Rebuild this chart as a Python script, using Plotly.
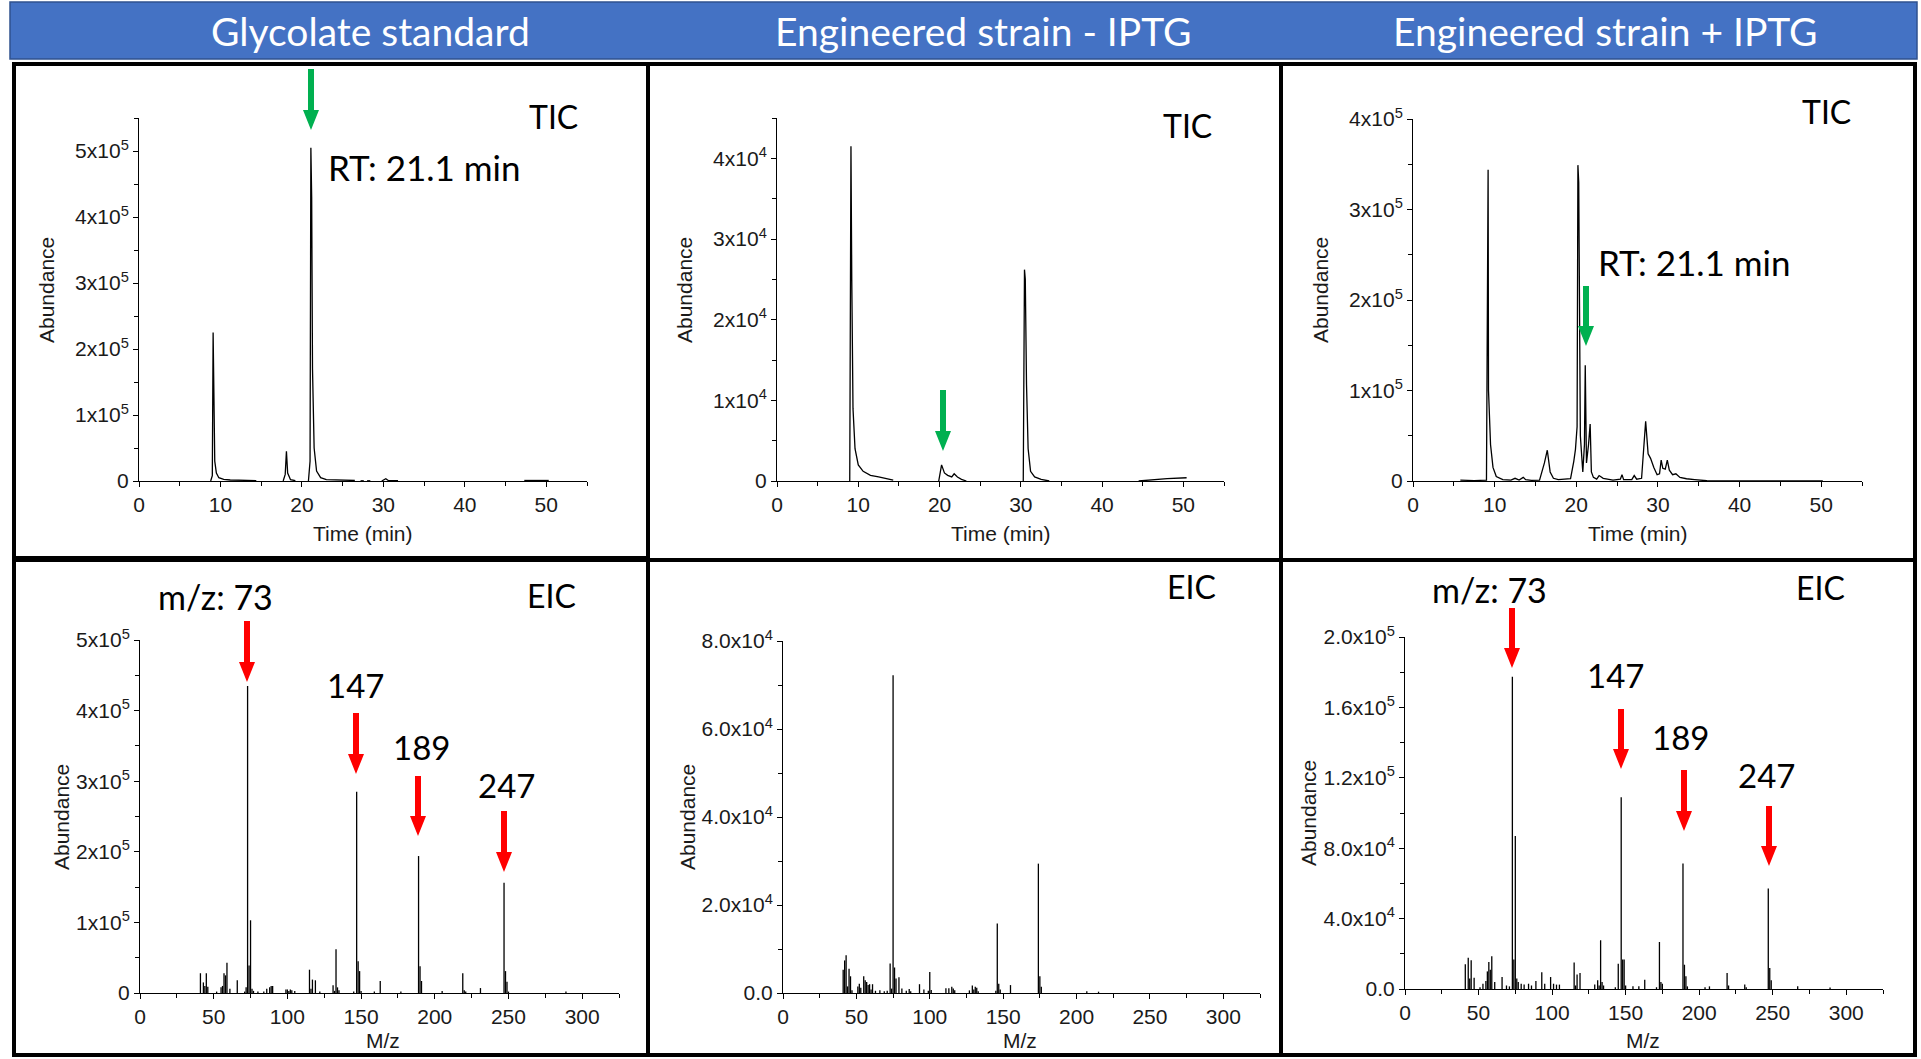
import plotly.graph_objects as go

W, H = 1921, 1059

# ---------------- data ----------------
# TIC chromatograms (time in min, abundance)
tic_std_t = [8.8, 9.0, 9.1, 9.2, 9.3, 9.5, 9.8, 10.4, 11.2, 14.4, None,
             17.7, 17.95, 18.1, 18.25, 18.6, 19.2, None,
             20.8, 21.0, 21.1, 21.2, 21.3, 21.5, 21.8, 22.3, 23.0, 26.5, None,
             27.2, 27.6, None, 28.0, 28.4, None, 29.8, 30.3, 30.6, 31.8, None, 47.3, 50.3]
tic_std_a = [0, 8000, 225000, 70000, 30000, 12000, 5000, 2500, 1500, 600, None,
             0, 10000, 45000, 12000, 2000, 500, None,
             0, 30000, 505000, 430000, 170000, 50000, 15000, 5000, 2000, 800, None,
             300, 300, None, 300, 300, None, 0, 3500, 800, 500, None, 800, 800]

tic_minus_t = [8.95, 9.0, 9.1, 9.2, 9.35, 9.6, 10.0, 10.6, 11.5, 12.5, 13.5, 14.3, None,
               19.9, 20.1, 20.25, 20.6, 21.0, 21.5, 21.8, 22.2, 22.7, 23.3, None,
               30.3, 30.45, 30.55, 30.7, 30.9, 31.2, 31.7, 32.5, 33.5, None,
               44.5, 46, 48, 50.4]
tic_minus_a = [0, 23000, 41500, 25000, 9000, 4000, 2000, 1200, 700, 500, 250, 100, None,
               0, 1000, 2000, 1000, 700, 500, 900, 500, 200, 0, None,
               0, 26200, 25000, 12000, 4000, 1200, 500, 200, 0, None,
               0, 150, 300, 400]

tic_plus_t = [5.8, 7.5, 9.0, 9.2, 9.25, 9.35, 9.5, 9.8, 10.2, 11.0, 12.0, 12.5, 13.0, 13.5, 13.8,
              14.5, 15.5, 16.1, 16.45, 16.8, 17.2, 17.8, 18.5, 19.3, 19.7, 19.9, 20.1, 20.2, 20.3,
              20.5, 20.8, 21.0, 21.1, 21.25, 21.5, 21.7, 21.85, 22.1, 22.5, 22.8, 23.3, 24.5, 25.4,
              25.6, 25.8, 26.8, 27.1, 27.4, 28.0, 28.3, 28.5, 28.8, 29.1, 29.5, 29.9, 30.2, 30.4,
              30.6, 30.9, 31.15, 31.4, 31.8, 32.2, 32.7, 33.5, 34.5, 35.5, 36.0, 50.2]
tic_plus_a = [1000, 500, 1000, 344000, 100000, 70000, 40000, 15000, 5000, 1500, 1000, 3000, 1000, 4000, 1500,
              800, 1000, 20000, 34000, 10000, 3000, 1500, 2000, 2500, 22000, 35000, 60000, 349000, 330000,
              50000, 10000, 40000, 128000, 20000, 40000, 63000, 10000, 4000, 2000, 6000, 3000, 1000, 2000,
              7000, 1500, 1500, 6000, 2000, 3000, 40000, 66000, 30000, 25000, 15000, 7000, 8000, 23000,
              14000, 13000, 23000, 12000, 7000, 8000, 4000, 2500, 1500, 1000, 300, 0]

# Mass spectra (m/z, abundance)
eic_std_mz = [41, 43, 44, 45, 46, 52, 55, 56, 57, 58, 59, 61, 66, 71, 72, 73, 74, 75, 76, 77,
              80, 84, 86, 88, 89, 90, 99, 100, 101, 102, 103, 105, 115, 116, 117, 119, 122, 131,
              132, 133, 134, 135, 145, 147, 148, 149, 150, 159, 163, 177, 189, 190, 191, 205,
              219, 220, 221, 231, 247, 248, 249, 250, 289]
eic_std_v = [28000, 15000, 10000, 28000, 9000, 2000, 8000, 10000, 28000, 25000, 43000, 6000, 18000,
             2000, 8000, 435000, 39000, 103000, 6000, 3000, 2000, 2000, 6000, 8000, 10000, 10000,
             5000, 5000, 3000, 5000, 4000, 3000, 33000, 6000, 19000, 18000, 2000, 11000, 3000,
             62000, 8000, 4000, 2000, 285000, 45000, 31000, 3000, 2000, 17000, 2000, 194000, 38000,
             17000, 3000, 28000, 4000, 2000, 7000, 156000, 31000, 16000, 2000, 2000]

eic_minus_mz = [41, 42, 43, 44, 45, 46, 47, 51, 52, 53, 55, 56, 57, 58, 59, 60, 61, 63, 66, 69,
                71, 73, 74, 75, 76, 77, 79, 81, 84, 86, 87, 93, 96, 99, 100, 101, 111, 113, 115,
                116, 117, 127, 129, 130, 131, 132, 133, 145, 146, 147, 148, 155, 174, 175, 176,
                207, 215]
eic_minus_v = [5300, 7400, 8600, 1500, 5500, 3800, 600, 1500, 2100, 1200, 3800, 2900, 2500, 1800,
               2000, 800, 2000, 500, 600, 400, 500, 6700, 1000, 72200, 5800, 3300, 3600, 1000, 500,
               900, 400, 2000, 800, 500, 4800, 700, 1100, 1100, 1400, 1000, 600, 600, 1700, 800,
               1400, 1200, 400, 500, 15800, 2100, 800, 1800, 29400, 3800, 1400, 400, 300]

eic_plus_mz = [41, 43, 44, 45, 47, 51, 53, 55, 56, 57, 58, 59, 61, 66, 69, 71, 73, 74, 75, 76,
               77, 79, 81, 84, 86, 89, 93, 95, 99, 101, 103, 105, 115, 116, 117, 119, 129, 131,
               132, 133, 134, 135, 143, 145, 147, 148, 149, 150, 155, 159, 163, 171, 173, 174,
               175, 189, 190, 191, 192, 204, 207, 219, 220, 231, 232, 247, 248, 249, 267, 289]
eic_plus_v = [14000, 17800, 6000, 16300, 6400, 1000, 3000, 4500, 10000, 15400, 11000, 18600, 4000,
              6800, 2000, 1500, 177400, 16700, 87000, 6000, 4000, 3000, 2500, 3000, 2000, 4500,
              9500, 3000, 6800, 3000, 2500, 2500, 15000, 2000, 8300, 9100, 2500, 5000, 2000, 27700,
              4000, 2000, 1000, 14400, 109000, 16700, 16700, 2000, 1500, 1500, 5300, 1000, 26700,
              4000, 3000, 71300, 13800, 7200, 1500, 1000, 1500, 9100, 2000, 2500, 1000, 57100,
              12000, 5000, 1500, 800]

# Tick values / labels
tic_std_yvals = [0, 1e5, 2e5, 3e5, 4e5, 5e5]
tic_std_ytext = ["0", "1x10<sup>5</sup>", "2x10<sup>5</sup>", "3x10<sup>5</sup>", "4x10<sup>5</sup>", "5x10<sup>5</sup>"]
tic_minus_yvals = [0, 1e4, 2e4, 3e4, 4e4]
tic_minus_ytext = ["0", "1x10<sup>4</sup>", "2x10<sup>4</sup>", "3x10<sup>4</sup>", "4x10<sup>4</sup>"]
tic_plus_yvals = [0, 1e5, 2e5, 3e5, 4e5]
tic_plus_ytext = ["0", "1x10<sup>5</sup>", "2x10<sup>5</sup>", "3x10<sup>5</sup>", "4x10<sup>5</sup>"]
eic_std_yvals = [0, 1e5, 2e5, 3e5, 4e5, 5e5]
eic_std_ytext = tic_std_ytext
eic_minus_yvals = [0, 2e4, 4e4, 6e4, 8e4]
eic_minus_ytext = ["0.0", "2.0x10<sup>4</sup>", "4.0x10<sup>4</sup>", "6.0x10<sup>4</sup>", "8.0x10<sup>4</sup>"]
eic_plus_yvals = [0, 4e4, 8e4, 1.2e5, 1.6e5, 2e5]
eic_plus_ytext = ["0.0", "4.0x10<sup>4</sup>", "8.0x10<sup>4</sup>", "1.2x10<sup>5</sup>", "1.6x10<sup>5</sup>", "2.0x10<sup>5</sup>"]

column_titles = ["Glycolate standard", "Engineered strain - IPTG", "Engineered strain + IPTG"]

# ---------------- helpers ----------------
def fx(x):
    return x / W

def fy(y):
    return 1 - y / H

def sticks(mz, v):
    xs, ys = [], []
    for m, a in zip(mz, v):
        xs += [m, m, None]
        ys += [0, a, None]
    return xs, ys

fig = go.Figure()

# panel geometry in pixels: (x0, x1, ytop, ybottom)
panels = [
    dict(px=(139, 587), py=(118, 481), xr=[0, 55], yr=[0, 5.5e5], xd=10, xm=5, yv=tic_std_yvals, yt=tic_std_ytext, ym=0.5e5),
    dict(px=(777, 1224), py=(118, 481), xr=[0, 55], yr=[0, 4.5e4], xd=10, xm=5, yv=tic_minus_yvals, yt=tic_minus_ytext, ym=0.5e4),
    dict(px=(1413, 1862), py=(119, 481), xr=[0, 55], yr=[0, 4e5], xd=10, xm=5, yv=tic_plus_yvals, yt=tic_plus_ytext, ym=0.5e5),
    dict(px=(140, 619), py=(640, 993), xr=[0, 325], yr=[0, 5e5], xd=50, xm=25, yv=eic_std_yvals, yt=eic_std_ytext, ym=0.5e5),
    dict(px=(783, 1260), py=(641, 993), xr=[0, 325], yr=[0, 8e4], xd=50, xm=25, yv=eic_minus_yvals, yt=eic_minus_ytext, ym=1e4),
    dict(px=(1405, 1883), py=(637, 989), xr=[0, 325], yr=[0, 2e5], xd=50, xm=25, yv=eic_plus_yvals, yt=eic_plus_ytext, ym=2e4),
]

series = [
    (tic_std_t, tic_std_a),
    (tic_minus_t, tic_minus_a),
    (tic_plus_t, tic_plus_a),
    sticks(eic_std_mz, eic_std_v),
    sticks(eic_minus_mz, eic_minus_v),
    sticks(eic_plus_mz, eic_plus_v),
]

tickfont = dict(family="Liberation Sans, Arial, sans-serif", size=21, color="#1a1a1a")
layout = {}
for i, (p, (xs, ys)) in enumerate(zip(panels, series), start=1):
    sfx = "" if i == 1 else str(i)
    fig.add_trace(go.Scatter(x=xs, y=ys, mode="lines", line=dict(color="black", width=1.3),
                             xaxis="x" + sfx, yaxis="y" + sfx, connectgaps=False,
                             hoverinfo="skip", showlegend=False))
    common = dict(showgrid=False, zeroline=False, showline=True, linecolor="black", linewidth=1,
                  ticks="outside", ticklen=5, tickwidth=1, tickcolor="black", tickfont=tickfont,
                  fixedrange=True, automargin=False)
    layout["xaxis" + sfx] = dict(domain=[fx(p["px"][0]), fx(p["px"][1])], anchor="y" + sfx,
                                 range=p["xr"], tickmode="linear", tick0=0, dtick=p["xd"],
                                 minor=dict(ticks="outside", ticklen=4, tickcolor="black", dtick=p["xm"], tick0=0),
                                 **common)
    layout["yaxis" + sfx] = dict(domain=[fy(p["py"][1]), fy(p["py"][0])], anchor="x" + sfx,
                                 range=p["yr"], tickmode="array", tickvals=p["yv"], ticktext=p["yt"],
                                 minor=dict(ticks="outside", ticklen=4, tickcolor="black", dtick=p["ym"], tick0=0),
                                 **common)

shapes = []
# header bar
shapes.append(dict(type="rect", xref="paper", yref="paper", x0=fx(10), x1=fx(1917), y0=fy(59), y1=fy(2),
                   fillcolor="#4472C4", line=dict(color="#2F528F", width=1.5), layer="below"))
# panel frame
shapes.append(dict(type="rect", xref="paper", yref="paper", x0=fx(14), x1=fx(1915), y0=fy(1055), y1=fy(64),
                   line=dict(color="black", width=4)))
for xv in (648, 1281):
    shapes.append(dict(type="line", xref="paper", yref="paper", x0=fx(xv), x1=fx(xv), y0=fy(1055), y1=fy(64),
                       line=dict(color="black", width=4)))
shapes.append(dict(type="line", xref="paper", yref="paper", x0=fx(14), x1=fx(648), y0=fy(559), y1=fy(559),
                   line=dict(color="black", width=6)))
shapes.append(dict(type="line", xref="paper", yref="paper", x0=fx(648), x1=fx(1915), y0=fy(560), y1=fy(560),
                   line=dict(color="black", width=4)))


def arrow(xc, ytop, ybot, color):
    hw, sw, hl = 8, 3, 20
    pts = [(xc - sw, ytop), (xc + sw, ytop), (xc + sw, ybot - hl), (xc + hw, ybot - hl), (xc, ybot),
           (xc - hw, ybot - hl), (xc - sw, ybot - hl)]
    path = "M " + " L ".join(f"{fx(a):.6f},{fy(b):.6f}" for a, b in pts) + " Z"
    return dict(type="path", xref="paper", yref="paper", path=path, fillcolor=color,
                line=dict(color=color, width=0))

GREEN, RED = "#00B050", "#FF0000"
for xc, y0, y1 in [(311, 69, 130), (943, 390, 451), (1586, 286, 346)]:
    shapes.append(arrow(xc, y0, y1, GREEN))
for xc, y0, y1 in [(247, 621, 682), (356, 713, 774), (418, 776, 836), (504, 811, 872),
                   (1512, 608, 668), (1621, 709, 769), (1684, 770, 831), (1769, 806, 866)]:
    shapes.append(arrow(xc, y0, y1, RED))

annotations = []

def ann(text, x, y, size, color="black", family="Lato, Calibri, sans-serif", xanchor="center", angle=0):
    annotations.append(dict(text=text, x=fx(x), y=fy(y), xref="paper", yref="paper", showarrow=False,
                            xanchor=xanchor, yanchor="middle", textangle=angle,
                            font=dict(family=family, size=size, color=color)))

# column headers
for t, xc in zip(column_titles, [370, 983, 1605]):
    ann(t, xc, 31, 39, color="white")

# panel labels
for x, y in [(553, 117), (1187, 125), (1826, 112)]:
    ann("TIC", x, y, 32)
for x, y in [(551, 595), (1191, 586), (1820, 587)]:
    ann("EIC", x, y, 32)
ann("RT: 21.1 min", 326, 167, 35, xanchor="left")
ann("RT: 21.1 min", 1596, 262, 35, xanchor="left")
ann("m/z: 73", 215, 596, 34)
ann("147", 355, 685, 33)
ann("189", 421, 747, 33)
ann("247", 506, 785, 33)
ann("m/z: 73", 1489, 589, 34)
ann("147", 1615, 675, 33)
ann("189", 1680, 737, 33)
ann("247", 1766, 775, 33)

# axis titles
AX = "Liberation Sans, Arial, sans-serif"
for x, y in [(46, 290), (684, 290), (1320, 290), (61, 817), (687, 817), (1308, 813)]:
    ann("Abundance", x, y, 21, color="#1a1a1a", family=AX, angle=-90)
for x in (363, 1001, 1638):
    ann("Time (min)", x, 533, 21, color="#1a1a1a", family=AX)
for x in (383, 1020, 1643):
    ann("M/z", x, 1040, 21, color="#1a1a1a", family=AX)

fig.update_layout(width=W, height=H, margin=dict(l=0, r=0, t=0, b=0, pad=0, autoexpand=False),
                  paper_bgcolor="white", plot_bgcolor="white", showlegend=False,
                  shapes=shapes, annotations=annotations, hovermode=False, **layout)

post = ("document.body.style.margin='0px';document.body.style.overflow='hidden';"
        "var gd=document.getElementById('{plot_id}');gd.style.position='absolute';"
        "gd.style.left='0px';gd.style.top='0px';")
fig.write_html("out.html", config={"displayModeBar": False}, post_script=post)
